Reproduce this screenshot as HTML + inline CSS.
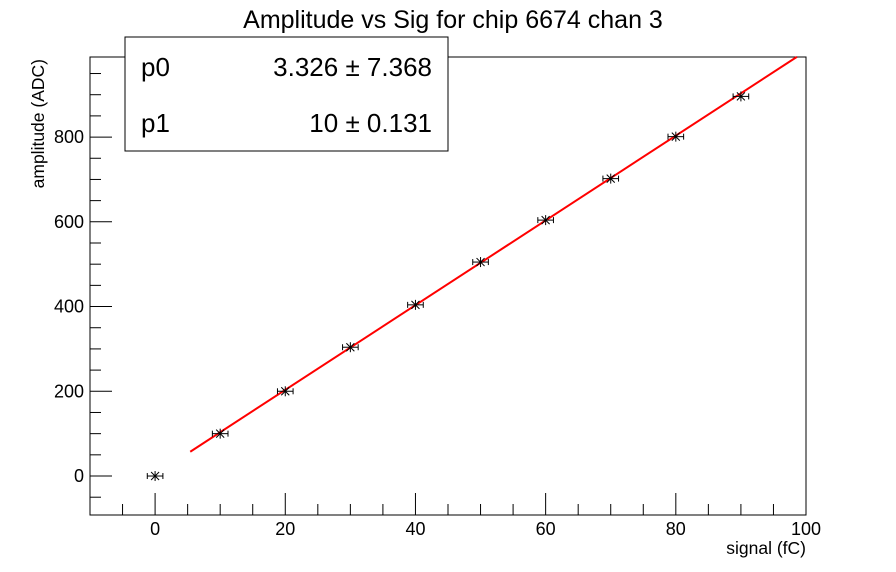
<!DOCTYPE html>
<html><head><meta charset="utf-8"><style>
body{margin:0;background:#fff;}
svg{display:block;font-family:"Liberation Sans",sans-serif;}
</style></head><body>
<svg id="c" width="896" height="572" viewBox="0 0 896 572">
<rect width="896" height="572" fill="#fff"/>
<text x="453" y="28" font-size="25" text-anchor="middle">Amplitude vs Sig for chip 6674 chan 3</text>
<text x="806" y="554" font-size="17.5" text-anchor="end">signal (fC)</text>
<text transform="translate(44,59) rotate(-90)" font-size="17.5" text-anchor="end">amplitude (ADC)</text>
<g id="axes"></g>
<g id="marks"></g>
<g>
<rect x="125" y="37" width="323" height="114" fill="#fff" stroke="#000" stroke-width="1"/>
<text x="141" y="76" font-size="26">p0</text>
<text x="432" y="76" font-size="26" text-anchor="end">3.326 ± 7.368</text>
<text x="141" y="132" font-size="26">p1</text>
<text x="432" y="132" font-size="26" text-anchor="end">10 ± 0.131</text>
</g>
</svg>
<script>
const xValues=[0,10,20,30,40,50,60,70,80,90];
const yValues=[0,100,200,304,404,505,604,702,801,896];
const xErr=[1.2,1.2,1.2,1.2,1.2,1.2,1.2,1.2,1.2,1.2];
const fitP0=3.326, fitP1=10;
const fitRange=[5.4,98.6];
const xTicks=[0,20,40,60,80,100];
const yTicks=[0,200,400,600,800];
const L=90,R=806,T=57,B=515,xmin=-10,xmax=100,ymin=-92,ymax=989;
const sx=v=>L+(v-xmin)/(xmax-xmin)*(R-L);
const sy=v=>B-(v-ymin)/(ymax-ymin)*(B-T);
const NS="http://www.w3.org/2000/svg";
function mk(p,t,a){const e=document.createElementNS(NS,t);for(const k in a)e.setAttribute(k,a[k]);p.appendChild(e);return e;}
const ax=document.getElementById('axes'),mg=document.getElementById('marks');
const fr=mk(ax,'rect',{x:L,y:T,width:R-L,height:B-T,fill:'none',stroke:'#000','stroke-width':1});


for(let v=-10;v<=100;v+=5){const maj=v%20===0;const x=sx(v);
 const t=mk(ax,'line',{x1:x,x2:x,y1:B,y2:B-(maj?22:11),stroke:'#000'});
 
 }
for(let v=-50;v<=950;v+=50){const maj=v%200===0;const y=sy(v);
 const t=mk(ax,'line',{x1:L,x2:L+(maj?22:11),y1:y,y2:y,stroke:'#000'});
 
 }
xTicks.forEach(v=>{const t=mk(ax,'text',{x:sx(v),y:B+20,'font-size':18,'text-anchor':'middle'});t.textContent=v;
 
 });
yTicks.forEach(v=>{const t=mk(ax,'text',{x:L-6,y:sy(v)+6,'font-size':18,'text-anchor':'end'});t.textContent=v;
 
 });
const fl=mk(mg,'line',{x1:sx(fitRange[0]),y1:sy(fitP0+fitP1*fitRange[0]),x2:sx(fitRange[1]),y2:sy(fitP0+fitP1*fitRange[1]),stroke:'#f00','stroke-width':2});


xValues.forEach((xv,i)=>{const x=sx(xv),y=sy(yValues[i]);const g=mk(mg,'g',{stroke:'#000','stroke-width':1});
 
 
 const x1=sx(xv-xErr[i]),x2=sx(xv+xErr[i]);
 mk(g,'line',{x1:x1,x2:x2,y1:y,y2:y});
 mk(g,'line',{x1:x1,x2:x1,y1:y-3,y2:y+3});
 mk(g,'line',{x1:x2,x2:x2,y1:y-3,y2:y+3});
 mk(g,'line',{x1:x,x2:x,y1:y-5,y2:y+5});
 mk(g,'line',{x1:x-4,x2:x+4,y1:y-4,y2:y+4});
 mk(g,'line',{x1:x-4,x2:x+4,y1:y+4,y2:y-4});
});
</script>
</body></html>
